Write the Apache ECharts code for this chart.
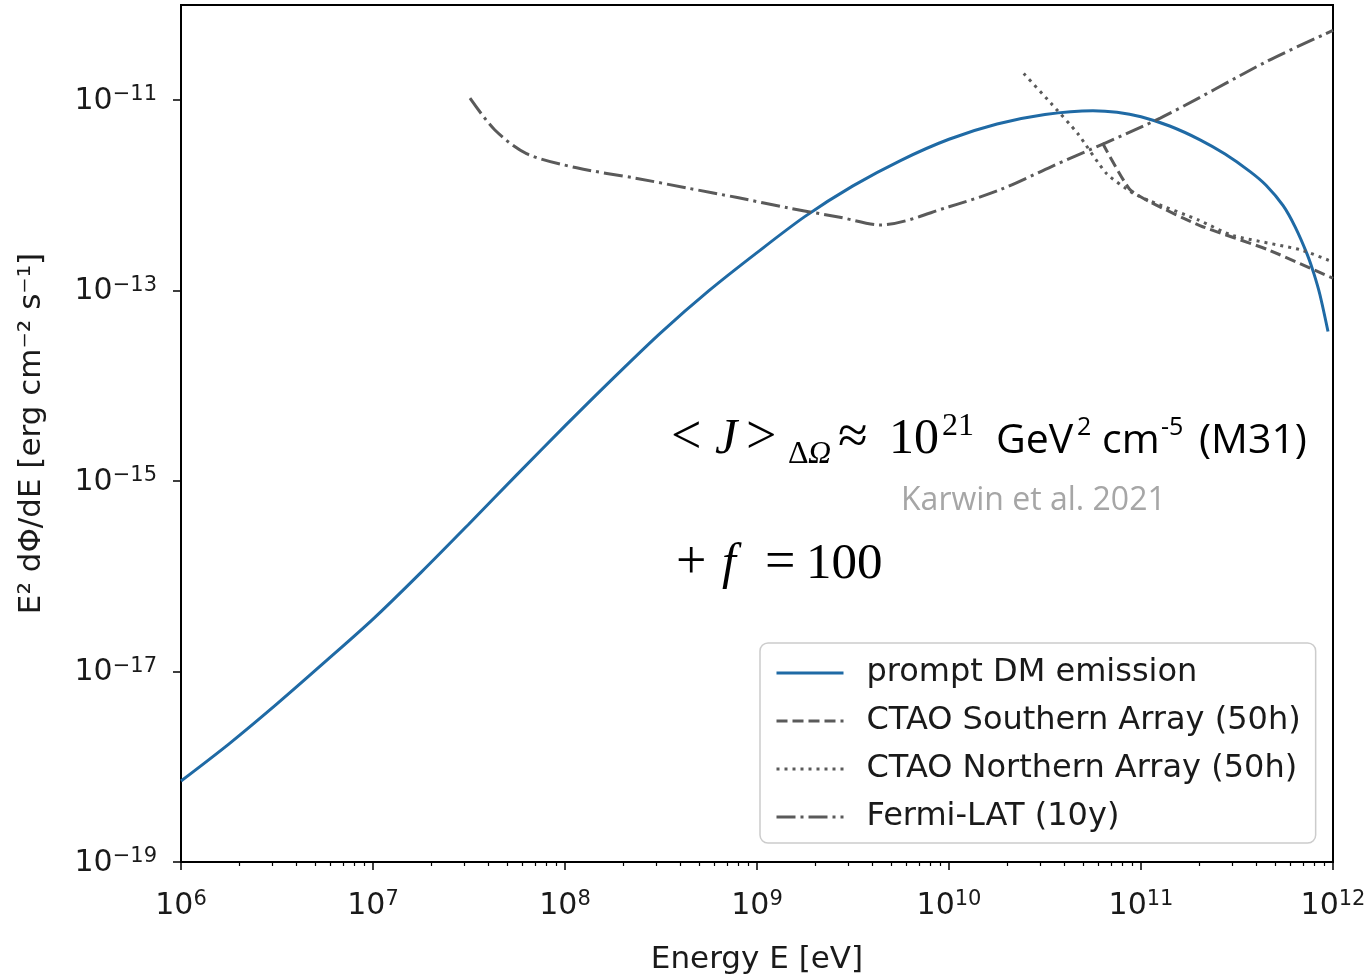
<!DOCTYPE html>
<html>
<head>
<meta charset="utf-8">
<style>
  html, body { margin: 0; padding: 0; background: #fff; }
  #main { width: 1370px; height: 978px; }
</style>
<script src="https://cdn.jsdelivr.net/npm/echarts@6/dist/echarts.min.js"></script>
</head>
<body>
<div id="main"></div>
<script>
// prompt DM emission (E in eV, E^2 dPhi/dE in erg cm^-2 s^-1)
const dmEnergy = [1e6, 1.78e6, 3.16e6, 5.62e6, 1e7, 1.78e7, 3.16e7, 5.62e7, 1e8, 1.78e8, 3.16e8, 5.62e8,
  1e9, 1.78e9, 3.16e9, 5.62e9, 1e10, 1.78e10, 3.16e10, 5.62e10, 7.5e10, 1e11, 1.41e11, 2.03e11, 2.74e11,
  3.70e11, 4.48e11, 5.50e11, 6.34e11, 7.33e11, 7.96e11, 8.55e11, 9.42e11];
const dmFlux = [7.08e-19, 1.74e-18, 4.57e-18, 1.26e-17, 3.55e-17, 1.10e-16, 3.55e-16, 1.17e-15, 3.80e-15,
  1.20e-14, 3.63e-14, 1.0e-13, 2.51e-13, 6.03e-13, 1.26e-12, 2.34e-12, 3.89e-12, 5.62e-12, 7.08e-12,
  7.76e-12, 7.48e-12, 6.71e-12, 5.36e-12, 3.84e-12, 2.72e-12, 1.78e-12, 1.28e-12, 7.82e-13, 4.71e-13,
  2.42e-13, 1.50e-13, 9.06e-14, 3.72e-14];

// CTAO Southern Array (50h)
const southEnergy = [6.3e10, 8.7e10, 1.12e11, 2.04e11, 4.57e11, 1e12];
const southFlux = [3.55e-12, 1.17e-12, 8.5e-13, 4.8e-13, 2.7e-13, 1.35e-13];

// CTAO Northern Array (50h)
const northEnergy = [2.45e10, 3.39e10, 4.68e10, 6.61e10, 9.12e10, 1.12e11, 2.0e11, 3.0e11, 6.76e11, 1e12];
const northFlux = [1.91e-11, 9.33e-12, 4.47e-12, 1.70e-12, 1.05e-12, 8.71e-13, 5.5e-13, 3.8e-13, 2.69e-13, 2.0e-13];

// Fermi-LAT (10y)
const fermiEnergy = [3.2e7, 4.3e7, 6.3e7, 1.15e8, 2.37e8, 4.3e8, 7.9e8, 1.45e9, 2.7e9, 4.4e9, 1e10,
  1.85e10, 3.4e10, 1.26e11, 4.6e11, 1e12];
const fermiFlux = [1.05e-11, 4.9e-12, 2.75e-12, 1.95e-12, 1.51e-12, 1.2e-12, 9.5e-13, 7.4e-13, 5.9e-13,
  4.9e-13, 7.6e-13, 1.15e-12, 2.0e-12, 6.5e-12, 2.6e-11, 5.4e-11];

const seriesNames = ['prompt DM emission', 'CTAO Southern Array (50h)', 'CTAO Northern Array (50h)', 'Fermi-LAT (10y)'];
const yTickValues = [1e-19, 1e-17, 1e-15, 1e-13, 1e-11];

// log-spaced minor ticks 2..9 per decade
const minorTickValues = [];
for (let d = 6; d < 12; d++) {
  for (let m = 2; m <= 9; m++) minorTickValues.push(m * Math.pow(10, d));
}

const pairs = (xs, ys) => xs.map((x, i) => [x, ys[i]]);

const FONT = 'DejaVu Sans';
const TXT = '#1a1a1a';
const GREY = '#5a5a5a';
const BLUE = '#1f6aa5';

const supRich = {
  b: { fontFamily: FONT, fontSize: 30, color: TXT, lineHeight: 32, verticalAlign: 'bottom' },
  e: { fontFamily: FONT, fontSize: 21, color: TXT, lineHeight: 20, verticalAlign: 'top' }
};
const powLabel = v => {
  const p = Math.round(Math.log10(v));
  return '{b|10}{e|' + (p < 0 ? '\u2212' + (-p) : p) + '}';
};

// text overlay pieces: [text, x, y(middle), style, size, family, colour]
const serif = 'Liberation Serif';
const sans = 'Open Sans';
const notes = [
  ['<', 671, 439, 'normal', 54, serif, '#000'],
  ['J', 715, 440, 'italic', 50, serif, '#000'],
  ['>', 746, 439, 'normal', 54, serif, '#000'],
  ['\u0394', 788, 455, 'normal', 32, serif, '#000'],
  ['\u03A9', 808, 455, 'italic', 32, serif, '#000'],
  ['\u2248', 838, 439, 'normal', 54, serif, '#000'],
  ['10', 889, 440, 'normal', 50, serif, '#000'],
  ['21', 942, 427, 'normal', 32, serif, '#000'],
  ['GeV', 996, 441, 'normal', 41, sans, '#000'],
  ['2', 1077, 428, 'normal', 25, sans, '#000'],
  ['cm', 1102, 441, 'normal', 41, sans, '#000'],
  ['-5', 1161, 428, 'normal', 25, sans, '#000'],
  ['(M31)', 1199, 441, 'normal', 41, sans, '#000'],
  ['Karwin et al. 2021', 901, 501, 'normal', 32, sans, '#a6a6a6'],
  ['+', 676, 564, 'normal', 54, serif, '#000'],
  ['f', 722, 565, 'italic', 50, serif, '#000'],
  ['=', 765, 564, 'normal', 54, serif, '#000'],
  ['100', 806, 565, 'normal', 51, serif, '#000']
];

const chart = echarts.init(document.getElementById('main'), null, { renderer: 'canvas' });

chart.setOption({
  backgroundColor: '#fff',
  animation: false,
  grid: {
    left: 181, right: 37, top: 5, bottom: 116,
    outerBoundsMode: 'none',
    containLabel: false,
    show: true, borderColor: '#000', borderWidth: 2, backgroundColor: 'transparent'
  },
  xAxis: [{
    type: 'log',
    min: 1e6, max: 1e12,
    name: 'Energy E [eV]',
    nameLocation: 'middle',
    nameGap: 82,
    nameTextStyle: { fontFamily: FONT, fontSize: 31, color: TXT },
    axisLine: { show: true, lineStyle: { color: '#000', width: 2 } },
    axisTick: { show: true, length: 8, lineStyle: { color: '#000', width: 1.5 } },
    axisLabel: { margin: 27, formatter: powLabel, rich: supRich, showMinLabel: true, showMaxLabel: true },
    splitLine: { show: false }
  }, {
    type: 'log',
    min: 1e6, max: 1e12,
    position: 'bottom',
    axisLine: { show: false },
    axisTick: { show: true, customValues: minorTickValues, length: 4, lineStyle: { color: '#000', width: 1.2 } },
    axisLabel: { show: false },
    splitLine: { show: false }
  }],
  yAxis: [{
    type: 'log',
    min: 1e-19, max: 1e-10,
    name: 'E\u00B2 d\u03A6/dE [erg cm\u207B\u00B2 s\u207B\u00B9]',
    nameLocation: 'middle',
    nameRotate: 90,
    nameGap: 134,
    nameTextStyle: { fontFamily: FONT, fontSize: 31, color: TXT },
    axisLine: { show: true, lineStyle: { color: '#000', width: 2 } },
    axisTick: { show: true, customValues: yTickValues, length: 8, lineStyle: { color: '#000', width: 1.5 } },
    axisLabel: { customValues: yTickValues, margin: 24, formatter: powLabel, rich: supRich },
    splitLine: { show: false }
  }],
  legend: {
    orient: 'vertical',
    left: 760, top: 643,
    selectedMode: false,
    itemWidth: 67, itemHeight: 28, itemGap: 16,
    padding: [14, 15, 10, 15],
    backgroundColor: '#fff',
    borderColor: '#cccccc', borderWidth: 1.5, borderRadius: 8,
    itemStyle: { opacity: 0 },
    lineStyle: { width: 3 },
    textStyle: { fontFamily: FONT, fontSize: 32, color: TXT, padding: [0, 0, 0, 18] },
    data: seriesNames
  },
  series: [{
    name: seriesNames[0], type: 'line', data: pairs(dmEnergy, dmFlux),
    symbol: 'none', smooth: 0.3, z: 2,
    lineStyle: { color: BLUE, width: 3 }, itemStyle: { color: BLUE }
  }, {
    name: seriesNames[1], type: 'line', data: pairs(southEnergy, southFlux),
    symbol: 'none', smooth: 0.2, z: 3,
    lineStyle: { color: GREY, width: 3, type: [11, 5], cap: 'butt' }, itemStyle: { color: GREY }
  }, {
    name: seriesNames[2], type: 'line', data: pairs(northEnergy, northFlux),
    symbol: 'none', smooth: 0.2, z: 3,
    lineStyle: { color: GREY, width: 3, type: [3, 5], cap: 'butt' }, itemStyle: { color: GREY }
  }, {
    name: seriesNames[3], type: 'line', data: pairs(fermiEnergy, fermiFlux),
    symbol: 'none', smooth: 0.3, z: 3,
    lineStyle: { color: GREY, width: 3, type: [19, 5, 3, 5], cap: 'butt' }, itemStyle: { color: GREY }
  }],
  graphic: notes.map(n => ({
    type: 'text', x: n[1], y: n[2], silent: true,
    style: {
      text: n[0], fontStyle: n[3], fontSize: n[4], fontFamily: n[5], fill: n[6],
      verticalAlign: 'middle'
    }
  }))
});
</script>
</body>
</html>
